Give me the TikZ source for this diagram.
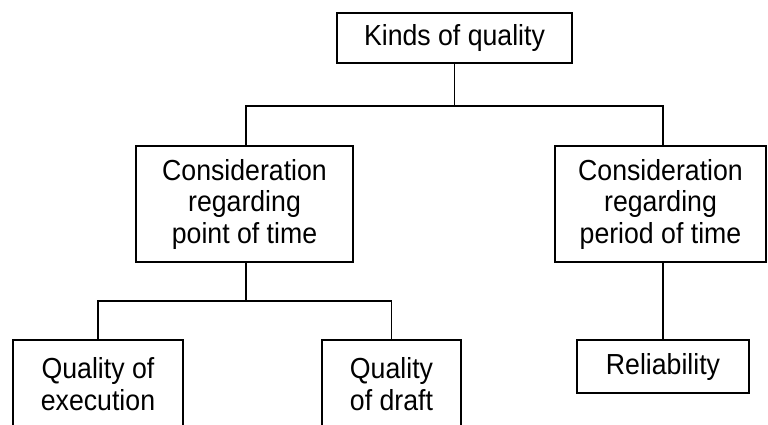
\documentclass[tikz,border=0pt]{standalone}
\usepackage{fontspec}
\setmainfont{Liberation Sans}[FakeStretch=0.92]
\begin{document}
\begin{tikzpicture}[x=1pt,y=-1pt,
  box/.style={draw=black,line width=1.9pt,fill=white,inner sep=0pt,align=center,
    font=\fontsize{29}{31.5}\selectfont},
  conn/.style={draw=black,line width=1.9pt}]
\useasboundingbox (0,0) rectangle (768,424);
\clip (0,0) rectangle (768,424);
% boxes
\node[box,minimum width=235pt,minimum height=50pt] (top) at (454.5,38) {Kinds of quality};
\node[box,minimum width=217pt,minimum height=116pt] (lm) at (244.5,204) {Consideration\\regarding\\point of time};
\node[box,minimum width=211pt,minimum height=116pt] (rm) at (660.5,204) {Consideration\\regarding\\period of time};
\node[box,minimum width=170pt,minimum height=88pt] (qe) at (98,384) {Quality of\\execution};
\node[box,minimum width=139pt,minimum height=88pt] (qd) at (391.5,384) {Quality\\of draft};
\node[box,minimum width=172pt,minimum height=53pt] (rel) at (663,366.5) {Reliability};
% junction coordinates
\coordinate (j1) at (454.5,106);
\coordinate (j2) at (246,301);
% connectors
\draw[conn] (top.south) -- (j1);
\draw[conn] (j1) -| ([xshift=1.5pt]lm.north);
\draw[conn] (j1) -| ([xshift=2.5pt]rm.north);
\draw[conn] ([xshift=1.5pt]lm.south) -- (j2);
\draw[conn] (j2) -| (qe.north);
\draw[conn] (j2) -| (qd.north);
\draw[conn] ([xshift=2.5pt]rm.south) -- ([xshift=2.5pt]rm.south |- rel.north);
\end{tikzpicture}
\end{document}
